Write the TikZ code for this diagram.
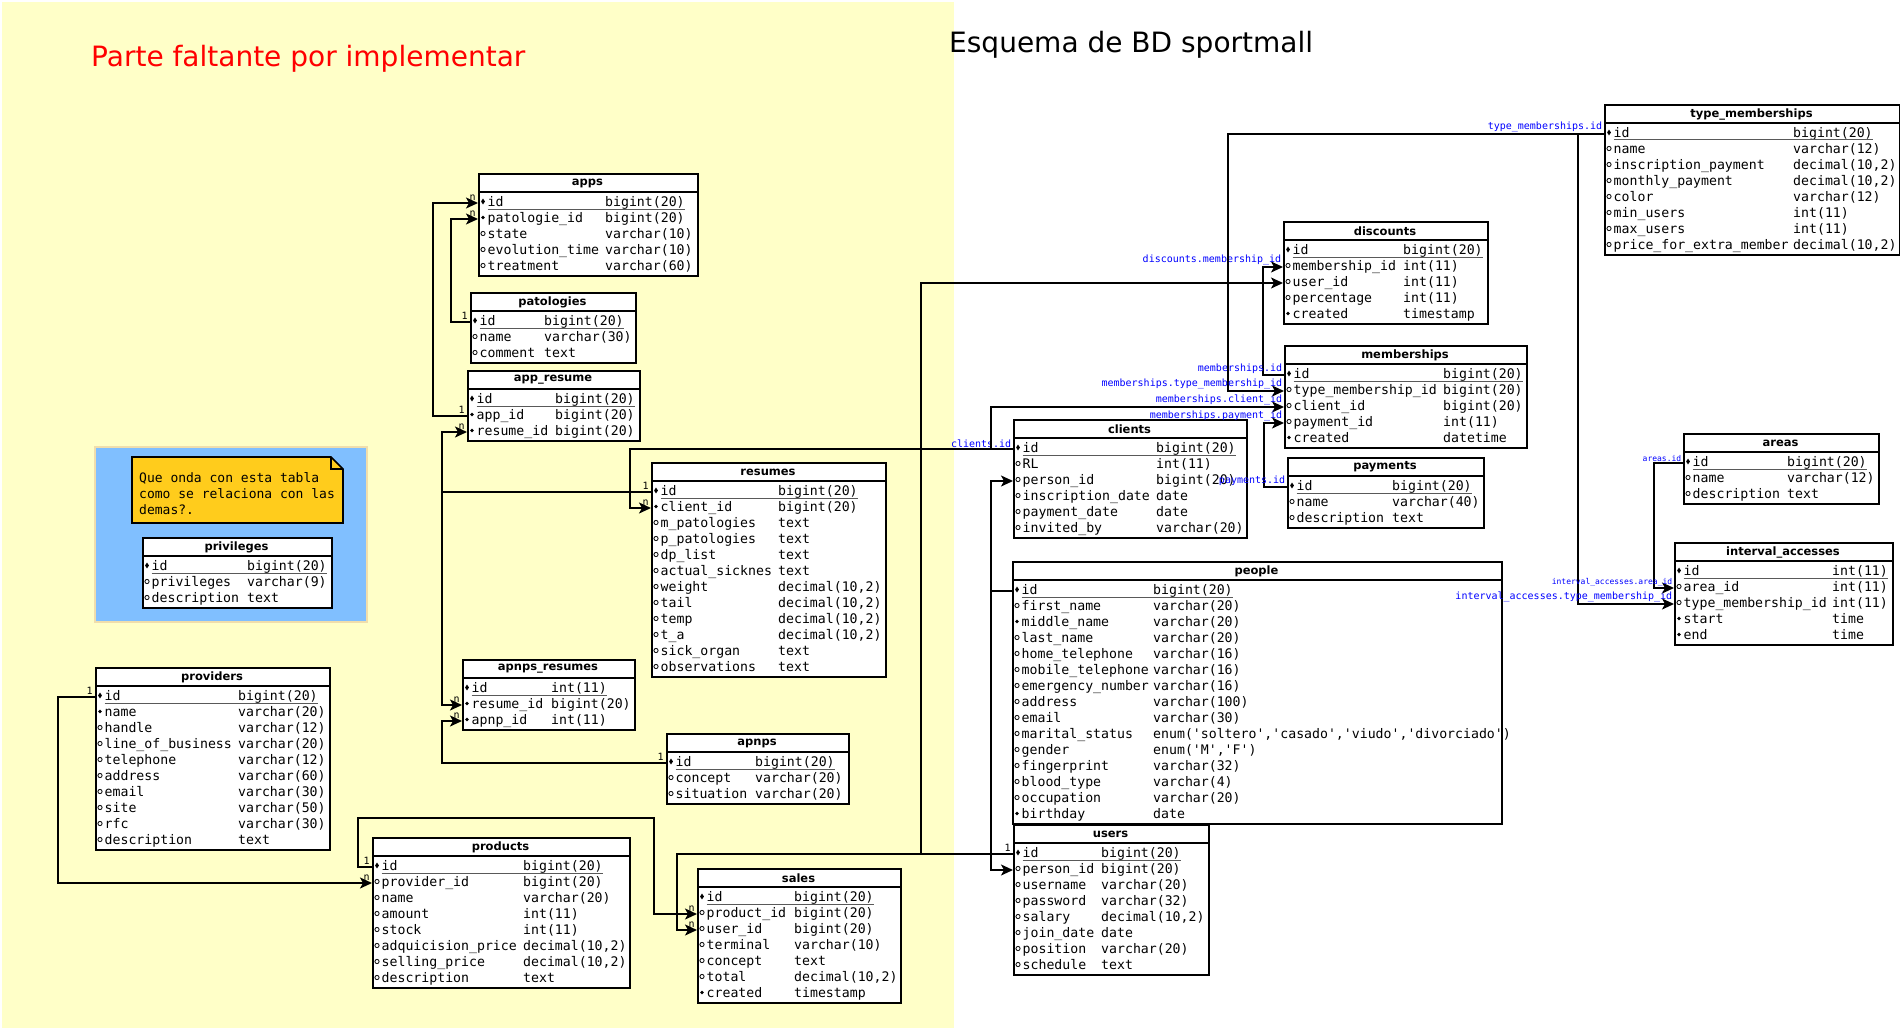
\documentclass[tikz,border=0pt]{standalone}
\usepackage{fontspec}
\setmainfont{DejaVu Sans}
\setmonofont{DejaVu Sans Mono}
\usetikzlibrary{arrows.meta,shapes.geometric}

\definecolor{bgyellow}{RGB}{255,255,200}
\definecolor{grpblue}{RGB}{128,191,255}
\definecolor{grpedge}{RGB}{240,222,172}
\definecolor{notegold}{RGB}{255,204,28}
\definecolor{lblblue}{RGB}{0,0,255}

\tikzset{
  tblbox/.style={draw,fill=white,line width=1.6pt,anchor=north west,inner sep=0pt},
  tblline/.style={line width=1.6pt},
  tbltitle/.style={inner sep=0pt,font=\bfseries\fontsize{11.5}{13}\selectfont},
  fldtxt/.style={anchor=west,inner sep=0pt,text height=9.5pt,text depth=2.5pt,
    font=\ttfamily\fontsize{13.2}{15}\selectfont},
  idline/.style={line width=1pt,gray!70!black},
  mk-d/.style={diamond,fill,inner sep=0pt,minimum width=4pt,minimum height=6pt},
  mk-f/.style={circle,fill,inner sep=0pt,minimum size=3.8pt},
  mk-o/.style={circle,draw,line width=0.8pt,inner sep=0pt,minimum size=4.2pt},
  fk/.style={line width=1.6pt,-{Stealth[length=12pt,width=11pt,inset=3pt]}},
  card/.style={anchor=south east,inner sep=1.5pt,font=\ttfamily\fontsize{10}{11}\selectfont},
  fklbl/.style={anchor=south east,inner sep=1pt,text=lblblue,font=\ttfamily\fontsize{10}{11}\selectfont},
  fklbls/.style={fklbl,font=\ttfamily\fontsize{8}{9}\selectfont},
}

% #1 name, #2/#3 top left corner, #4 width, #5 type column, #6 rows, #7 fields
\newcommand{\dbtable}[7]{%
  \begin{scope}[shift={(#2,#3)}]
    \node[tblbox,minimum width=#4,minimum height={22+16*#6}] (#1) at (0,0) {};
    \draw[tblline] (0,19) -- (#4,19);
    \node[tbltitle] (#1-head) at ({#4/2},10) {#1};
    \foreach \m/\f/\t [count=\i] in {#7} {
      \coordinate (#1-\i) at (0,{14+16*\i});
      \node[mk-\m] at (5,{12.5+16*\i}) {};
      \node[fldtxt] at (9.5,{14+16*\i}) {\f};
      \node[fldtxt] (#1-t\i) at (#5,{14+16*\i}) {\t};
    }
    \draw[idline] (9.5,36) -- (#1-t1.east |- 0,36);
  \end{scope}}

\catcode`\_=12

\begin{document}
\begin{tikzpicture}[x=1pt,y=-1pt]
  \useasboundingbox (0,0) rectangle (1900,1030);
  \fill[white] (0,0) rectangle (1900,1030);
  \fill[bgyellow] (2,2) rectangle (954,1028);

  % titles
  \node[anchor=west,inner sep=0pt,text=red,font=\fontsize{28}{32}\selectfont] (missing) at (91,59) {Parte faltante por implementar};
  \node[anchor=west,inner sep=0pt,font=\fontsize{28}{32}\selectfont] (schema) at (949,45) {Esquema de BD sportmall};

  % group with the note
  \draw[fill=grpblue,draw=grpedge,line width=1.5pt] (95,447) rectangle (367,622);
  \draw[fill=notegold,line width=1.6pt] (132,457) -- (331,457) -- (343,469) -- (343,523) -- (132,523) -- cycle;
  \draw[line width=1.2pt] (331,457) -- (331,469) -- (343,469);
  \node[anchor=west,align=left,inner sep=0pt,font=\ttfamily\fontsize{13}{16}\selectfont] (note) at (139,494)
    {Que onda con esta tabla\\como se relaciona con las\\demas?.};

  % tables
  \dbtable{apps}{478}{173}{219}{127}{5}{d/id/bigint(20), f/patologie_id/bigint(20), o/state/varchar(10),
    o/evolution_time/varchar(10), o/treatment/varchar(60)}
  \dbtable{patologies}{470}{292}{165}{74}{3}{d/id/bigint(20), o/name/varchar(30), o/comment/text}
  \dbtable{app_resume}{467}{370}{172}{88}{3}{d/id/bigint(20), f/app_id/bigint(20), f/resume_id/bigint(20)}
  \dbtable{resumes}{651}{462}{234}{127}{12}{d/id/bigint(20), f/client_id/bigint(20), o/m_patologies/text,
    o/p_patologies/text, o/dp_list/text, o/actual_sicknes/text, {o/weight/decimal(10,2)},
    {o/tail/decimal(10,2)}, {o/temp/decimal(10,2)}, {o/t_a/decimal(10,2)}, o/sick_organ/text,
    o/observations/text}
  \dbtable{privileges}{142}{537}{189}{105}{3}{d/id/bigint(20), o/privileges/varchar(9), o/description/text}
  \dbtable{providers}{95}{667}{234}{143}{10}{d/id/bigint(20), f/name/varchar(20), o/handle/varchar(12),
    o/line_of_business/varchar(20), o/telephone/varchar(12), o/address/varchar(60), o/email/varchar(30),
    o/site/varchar(50), o/rfc/varchar(30), o/description/text}
  \dbtable{apnps_resumes}{462}{659}{172}{89}{3}{d/id/int(11), f/resume_id/bigint(20), f/apnp_id/int(11)}
  \dbtable{apnps}{666}{733}{182}{89}{3}{d/id/bigint(20), o/concept/varchar(20), o/situation/varchar(20)}
  \dbtable{products}{372}{837}{257}{151}{8}{d/id/bigint(20), o/provider_id/bigint(20), o/name/varchar(20),
    o/amount/int(11), o/stock/int(11), {o/adquicision_price/decimal(10,2)},
    {o/selling_price/decimal(10,2)}, o/description/text}
  \dbtable{sales}{697}{868}{203}{97}{7}{d/id/bigint(20), o/product_id/bigint(20), o/user_id/bigint(20),
    o/terminal/varchar(10), o/concept/text, {o/total/decimal(10,2)}, f/created/timestamp}
  \dbtable{discounts}{1283}{221}{204}{120}{5}{d/id/bigint(20), o/membership_id/int(11), o/user_id/int(11),
    o/percentage/int(11), f/created/timestamp}
  \dbtable{type_memberships}{1604}{104}{295}{189}{8}{d/id/bigint(20), o/name/varchar(12),
    {o/inscription_payment/decimal(10,2)}, {o/monthly_payment/decimal(10,2)}, o/color/varchar(12),
    o/min_users/int(11), o/max_users/int(11), {o/price_for_extra_member/decimal(10,2)}}
  \dbtable{memberships}{1284}{345}{242}{159}{5}{d/id/bigint(20), o/type_membership_id/bigint(20),
    o/client_id/bigint(20), o/payment_id/int(11), f/created/datetime}
  \dbtable{clients}{1013}{419}{233}{143}{6}{d/id/bigint(20), o/RL/int(11), o/person_id/bigint(20),
    o/inscription_date/date, o/payment_date/date, o/invited_by/varchar(20)}
  \dbtable{payments}{1287}{457}{196}{105}{3}{d/id/bigint(20), o/name/varchar(40), o/description/text}
  \dbtable{people}{1012}{561}{489}{141}{15}{d/id/bigint(20), o/first_name/varchar(20), f/middle_name/varchar(20),
    o/last_name/varchar(20), o/home_telephone/varchar(16), o/mobile_telephone/varchar(16),
    o/emergency_number/varchar(16), o/address/varchar(100), o/email/varchar(30),
    {o/marital_status/enum('soltero','casado','viudo','divorciado')}, {o/gender/enum('M','F')},
    o/fingerprint/varchar(32), o/blood_type/varchar(4), o/occupation/varchar(20), f/birthday/date}
  \dbtable{users}{1013}{824}{195}{88}{8}{d/id/bigint(20), o/person_id/bigint(20), o/username/varchar(20),
    o/password/varchar(32), {o/salary/decimal(10,2)}, o/join_date/date, o/position/varchar(20),
    o/schedule/text}
  \dbtable{areas}{1683}{433}{195}{104}{3}{d/id/bigint(20), o/name/varchar(12), o/description/text}
  \dbtable{interval_accesses}{1674}{542}{218}{158}{5}{d/id/int(11), o/area_id/int(11),
    o/type_membership_id/int(11), f/start/time, f/end/time}

  % relations, left part
  \draw[fk] (patologies-1) node[card]{1} -- ++(-19,0) |- (apps-2) node[card]{n};
  \draw[fk] (app_resume-2) node[card]{1} -- ++(-34,0) |- (apps-1) node[card]{n};
  \draw[fk] (resumes-1) node[card]{1} -- ++(-209,0) |- (app_resume-3) node[card]{n};
  \draw[fk] (resumes-1) -- ++(-209,0) |- (apnps_resumes-2) node[card]{n};
  \draw[fk] (apnps-1) node[card]{1} -- ++(-224,0) |- (apnps_resumes-3) node[card]{n};
  \draw[fk] (providers-1) node[card]{1} -- ++(-37,0) |- (products-2) node[card]{n};
  \draw[fk] (products-1) node[card]{1} -- ++(-14,0) -- ++(0,-49) -- ++(296,0) |- (sales-2) node[card]{n};
  \draw[fk] (users-1) node[card]{1} -- ++(-336,0) |- (sales-3) node[card]{n};
  \draw[fk] (clients-1) node[fklbl]{clients.id} -- ++(-383,0) |- (resumes-2) node[card]{n};

  % relations, right part
  \draw[fk] (users-1) -- ++(-92,0) |- (discounts-3);
  \draw[fk] (people-1) -- ++(-21,0) |- (clients-3);
  \draw[fk] (people-1) -- ++(-21,0) |- (users-2);
  \draw[fk] (clients-1) -- ++(-22,0) |- (memberships-3) node[fklbl]{memberships.client_id};
  \draw[fk] (memberships-1) node[fklbl]{memberships.id} -- ++(-21,0) |- (discounts-2) node[fklbl]{discounts.membership_id};
  \draw[fk] (type_memberships-1) node[fklbl]{type_memberships.id} -- ++(-376,0) |- (memberships-2) node[fklbl]{memberships.type_membership_id};
  \draw[fk] (payments-1) node[fklbl]{payments.id} -- ++(-23,0) |- (memberships-4) node[fklbl]{memberships.payment_id};
  \draw[fk] (type_memberships-1) -- ++(-26,0) |- (interval_accesses-3) node[fklbl]{interval_accesses.type_membership_id};
  \draw[fk] (areas-1) node[fklbls]{areas.id} -- ++(-29,0) |- (interval_accesses-2) node[fklbls]{interval_accesses.area_id};
\end{tikzpicture}
\end{document}
